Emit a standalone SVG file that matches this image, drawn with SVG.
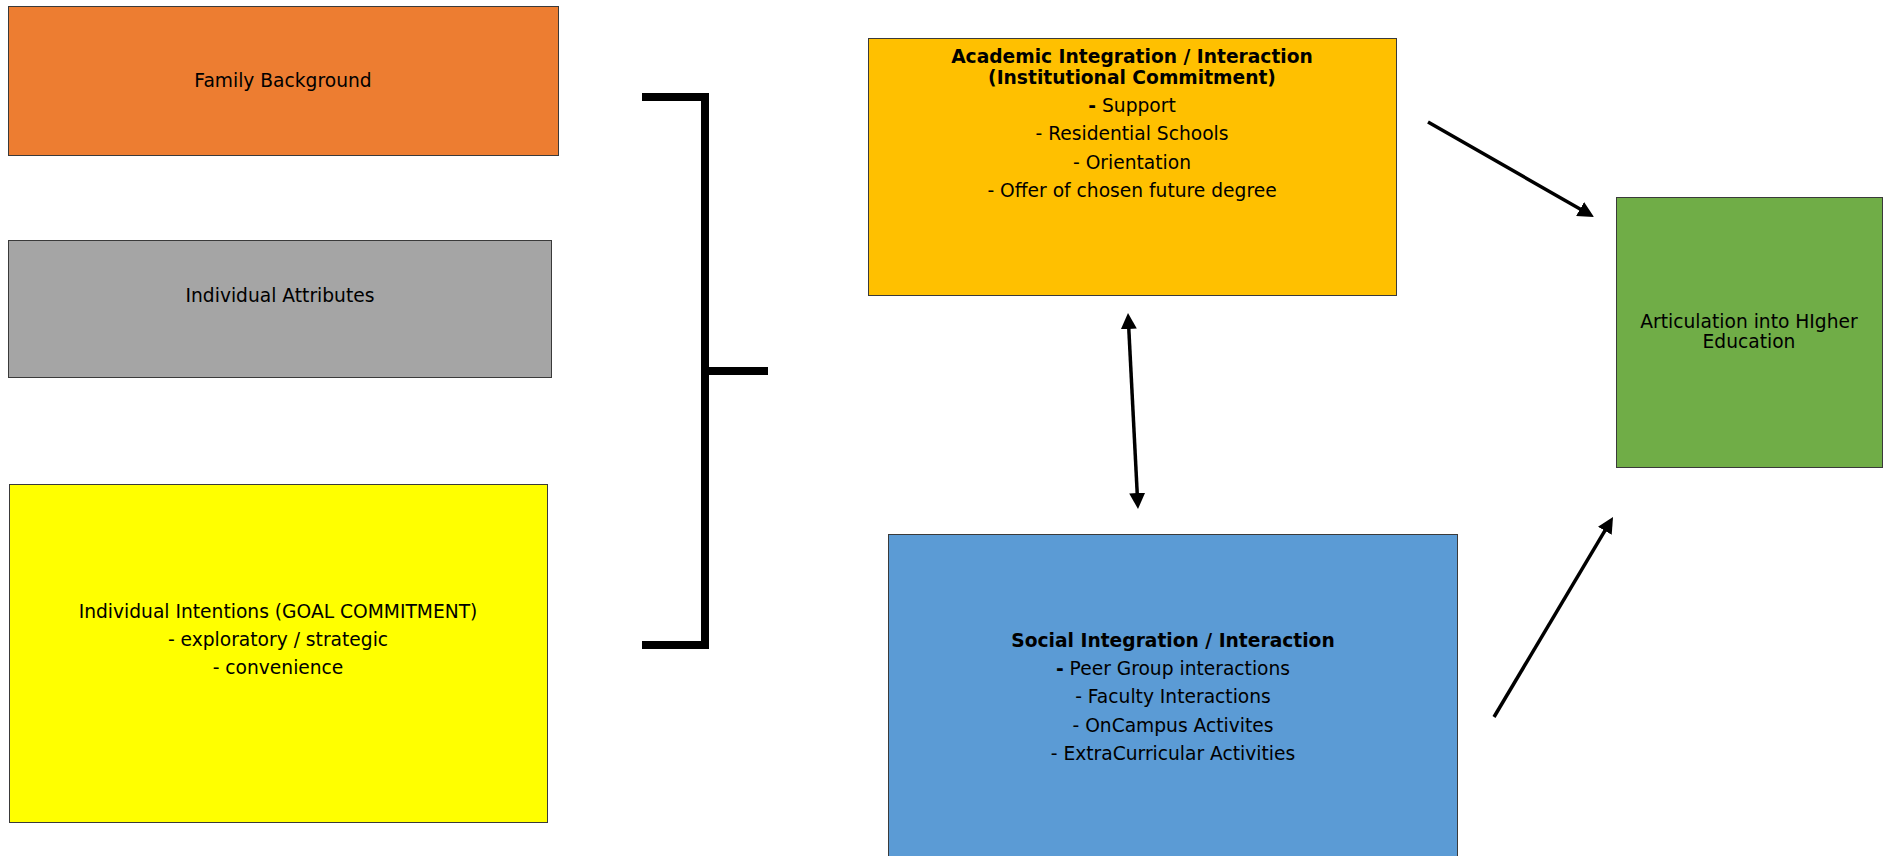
<svg xmlns="http://www.w3.org/2000/svg" width="1883" height="856" viewBox="0 0 1883 856">
  <style>
    .box { stroke: #3a3a3a; stroke-width: 1; }
    .lbl { font-family: "DejaVu Sans", Verdana, sans-serif; font-size: 18.67px; fill: #000; text-anchor: middle; }
    .b { font-weight: bold; }
    .link { stroke: #000; stroke-width: 3.5; fill: none; }
    .bracket { stroke: #000; stroke-width: 8; fill: none; stroke-linejoin: miter; stroke-linecap: butt; }
  </style>
  <defs>
    <marker id="head" viewBox="0 0 16 16" refX="6" refY="8" markerWidth="16" markerHeight="16" markerUnits="userSpaceOnUse" orient="auto-start-reverse">
      <path d="M0,0 L16,8 L0,16 z" fill="#000"/>
    </marker>
  </defs>
  <rect width="1883" height="856" fill="#fff"/>

  <g id="family-background">
    <rect class="box" x="8.5" y="6.5" width="550" height="149" fill="#ED7D31"/>
    <text class="lbl" x="283" y="87">Family Background</text>
  </g>

  <g id="individual-attributes">
    <rect class="box" x="8.5" y="240.5" width="543" height="137" fill="#A5A5A5"/>
    <text class="lbl" x="280" y="302">Individual Attributes</text>
  </g>

  <g id="individual-intentions">
    <rect class="box" x="9.5" y="484.5" width="538" height="338" fill="#FFFF00"/>
    <text class="lbl" x="278" y="618">Individual Intentions (GOAL COMMITMENT)</text>
    <text class="lbl" x="278" y="646">- exploratory / strategic</text>
    <text class="lbl" x="278" y="674">- convenience</text>
  </g>

  <g id="academic-integration">
    <rect class="box" x="868.5" y="38.5" width="528" height="257" fill="#FFC000"/>
    <text class="lbl b" x="1132" y="63">Academic Integration / Interaction</text>
    <text class="lbl b" x="1132" y="84">(Institutional Commitment)</text>
    <text class="lbl" x="1132" y="112"><tspan class="b">-</tspan> Support</text>
    <text class="lbl" x="1132" y="140">- Residential Schools</text>
    <text class="lbl" x="1132" y="169">- Orientation</text>
    <text class="lbl" x="1132" y="197">- Offer of chosen future degree</text>
  </g>

  <g id="social-integration">
    <rect class="box" x="888.5" y="534.5" width="569" height="330" fill="#5B9BD5"/>
    <text class="lbl b" x="1173" y="647">Social Integration / Interaction</text>
    <text class="lbl" x="1173" y="675"><tspan class="b">-</tspan> Peer Group interactions</text>
    <text class="lbl" x="1173" y="703">- Faculty Interactions</text>
    <text class="lbl" x="1173" y="732">- OnCampus Activites</text>
    <text class="lbl" x="1173" y="760">- ExtraCurricular Activities</text>
  </g>

  <g id="articulation">
    <rect class="box" x="1616.5" y="197.5" width="266" height="270" fill="#70AD47"/>
    <text class="lbl" x="1749" y="328">Articulation into HIgher</text>
    <text class="lbl" x="1749" y="348">Education</text>
  </g>

  <g id="connectors">
    <polyline class="bracket" points="642,97 705,97 705,645 642,645"/>
    <line class="bracket" x1="705" y1="371" x2="768" y2="371"/>
    <line class="link" x1="1128.5" y1="323" x2="1137.5" y2="499" marker-start="url(#head)" marker-end="url(#head)"/>
    <line class="link" x1="1428" y1="122" x2="1585.3" y2="212" marker-end="url(#head)"/>
    <line class="link" x1="1494" y1="717" x2="1607.9" y2="525.6" marker-end="url(#head)"/>
  </g>
</svg>
